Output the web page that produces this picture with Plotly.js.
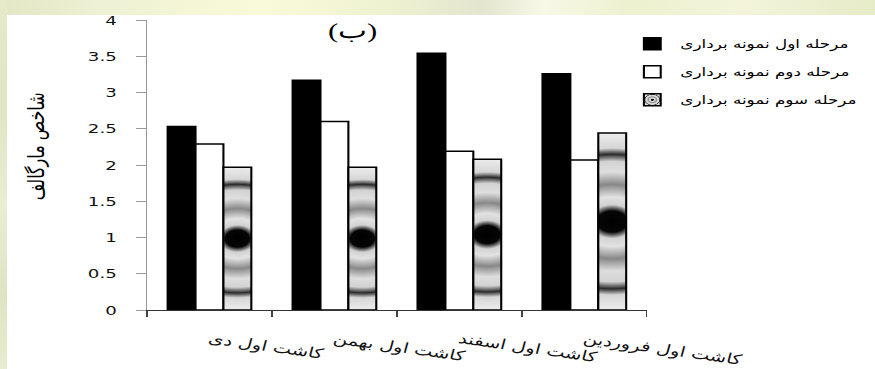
<!DOCTYPE html>
<html>
<head>
<meta charset="utf-8">
<script src="https://cdn.plot.ly/plotly-3.0.1.min.js"></script>
<style>
  html, body { margin: 0; padding: 0; overflow: hidden; }
  #frame {
    position: absolute; left: 0; top: 0; width: 875px; height: 369px;
    background:
      linear-gradient(90deg, #e3e7c6 0%, #eef1d3 12%, #f9fad9 30%, #eef1d0 45%, #e4e5cf 55%, #f7f8e6 62%, #edf1cf 72%, #f3f4da 85%, #e6ebc8 100%);
  }
  #leftband {
    position: absolute; left: 0; top: 0; width: 7px; height: 369px;
    background: linear-gradient(180deg, #e6eac9 0%, #dfe5c5 30%, #e9eed4 55%, #dde4c4 80%, #e8ecd0 100%);
  }
  #sheet { position: absolute; left: 7px; top: 15px; right: 0; bottom: 0; background: #ffffff; }
  #chart {
    position: absolute; left: 0; top: 0; width: 625px; height: 369px;
    transform: scaleX(1.4); transform-origin: 0 0;
  }
</style>
</head>
<body>
<div id="frame"><div id="leftband"></div><div id="sheet"></div></div>
<div id="chart"></div>
<script>
// Sowing dates (x categories)
const categories = ['کاشت اول دی', 'کاشت اول بهمن', 'کاشت اول اسفند', 'کاشت اول فروردین'];
// Margalef index per sampling stage
const stage1 = [2.53, 3.17, 3.54, 3.26];
const stage2 = [2.29, 2.60, 2.19, 2.07];
const stage3 = [1.97, 1.97, 2.08, 2.44];
const seriesNames = ['مرحله اول نمونه برداری', 'مرحله دوم نمونه برداری', 'مرحله سوم نمونه برداری'];
const yTickVals = [0, 0.5, 1, 1.5, 2, 2.5, 3, 3.5, 4];
const yTickText = ['0', '0.5', '1', '1.5', '2', '2.5', '3', '3.5', '4'];

const arabicFont = 'DejaVu Sans, Noto Sans, sans-serif';

const traces = [
  { name: seriesNames[0], y: stage1, fill: '#000000', group: 'a' },
  { name: seriesNames[1], y: stage2, fill: '#ffffff', group: 'b' },
  { name: seriesNames[2], y: stage3, fill: '#bdbdbd', group: 'c' }
].map(s => ({
  type: 'bar',
  x: categories,
  y: s.y,
  name: s.name,
  legendgroup: s.group,
  marker: { color: s.fill, line: { color: '#000000', width: 1.5 } },
  hoverinfo: 'x+y+name'
}));

const layout = {
  width: 625,
  height: 369,
  margin: { l: 105, r: 163, t: 20, b: 59, autoexpand: false },
  paper_bgcolor: 'rgba(0,0,0,0)',
  plot_bgcolor: 'rgba(0,0,0,0)',
  barmode: 'group',
  bargap: 0.33,
  bargroupgap: 0,
  showlegend: true,
  title: {
    text: '(ب)',
    xref: 'container', x: 0.403, xanchor: 'center',
    yref: 'container', y: 0.919, yanchor: 'middle',
    font: { family: 'Liberation Serif, DejaVu Serif, serif', size: 22, color: '#000' }
  },
  xaxis: {
    type: 'category',
    tickson: 'boundaries',
    ticks: 'outside', ticklen: 6, tickwidth: 1, tickcolor: '#444',
    showline: true, linecolor: '#333', linewidth: 1.2,
    showgrid: false, zeroline: false,
    tickangle: 11,
    ticklabelstandoff: 15,
    automargin: false,
    tickfont: { family: arabicFont, size: 14, color: '#111' }
  },
  yaxis: {
    range: [0, 4],
    tickvals: yTickVals, ticktext: yTickText,
    ticks: 'outside', ticklen: 7, tickwidth: 1, tickcolor: '#999',
    showline: true, linecolor: '#999', linewidth: 1,
    showgrid: false, zeroline: false,
    ticklabelstandoff: 11,
    automargin: false,
    tickfont: { family: 'DejaVu Sans, sans-serif', size: 13, color: '#111' }
  },
  legend: {
    x: 0.955, xanchor: 'left', xref: 'paper',
    y: 0.968, yanchor: 'top', yref: 'paper',
    bgcolor: 'rgba(0,0,0,0)',
    traceorder: 'grouped',
    tracegroupgap: 9,
    font: { family: arabicFont, size: 12, color: '#000' }
  },
  annotations: [{
    text: 'شاخص مارگالف',
    xref: 'paper', x: -0.22, xanchor: 'center',
    yref: 'paper', y: 0.566, yanchor: 'middle',
    textangle: -90, showarrow: false,
    font: { family: arabicFont, size: 16, color: '#000' }
  }]
};

// Concentric-ring shading used for the third sampling stage
const ringStops = [
  [0.00, '#000000'], [0.12, '#060606'], [0.19, '#d2d2d2'], [0.28, '#e2e2e2'],
  [0.42, '#888888'], [0.56, '#dedede'], [0.68, '#d2d2d2'], [0.76, '#2b2b2b'],
  [0.83, '#d6d6d6'], [1.00, '#ececec']
];
const SVGNS = 'http://www.w3.org/2000/svg';

function ringGradient(defs, id, cx, cy, r) {
  const g = document.createElementNS(SVGNS, 'radialGradient');
  g.setAttribute('id', id);
  g.setAttribute('gradientUnits', 'userSpaceOnUse');
  g.setAttribute('cx', cx); g.setAttribute('cy', cy); g.setAttribute('r', r);
  ringStops.forEach(([o, c]) => {
    const s = document.createElementNS(SVGNS, 'stop');
    s.setAttribute('offset', o);
    s.setAttribute('stop-color', c);
    g.appendChild(s);
  });
  defs.appendChild(g);
}

function shadeThirdStage(gd) {
  const svg = gd.querySelector('svg.main-svg');
  let defs = svg.querySelector('defs');
  if (!defs) { defs = document.createElementNS(SVGNS, 'defs'); svg.insertBefore(defs, svg.firstChild); }
  const barTraces = gd.querySelectorAll('.barlayer .trace');
  const third = barTraces[2];
  if (third) {
    third.querySelectorAll('path').forEach((p, i) => {
      const b = p.getBBox();
      const id = 'ringShade' + i;
      ringGradient(defs, id, b.x + b.width / 2, b.y + b.height / 2, b.height / 2);
      p.style.fill = 'url(#' + id + ')';
    });
  }
  const legendItems = gd.querySelectorAll('.legend .traces');
  const lg = legendItems[2];
  if (lg) {
    const p = lg.querySelector('.legendpoints path');
    if (p) {
      const b = p.getBBox();
      ringGradient(defs, 'ringShadeLegend', b.x + b.width / 2, b.y + b.height / 2, b.height / 2 + 1);
      p.style.fill = 'url(#ringShadeLegend)';
    }
  }
}

Plotly.newPlot('chart', traces, layout, { staticPlot: true, displayModeBar: false })
  .then(shadeThirdStage);
</script>
</body>
</html>
